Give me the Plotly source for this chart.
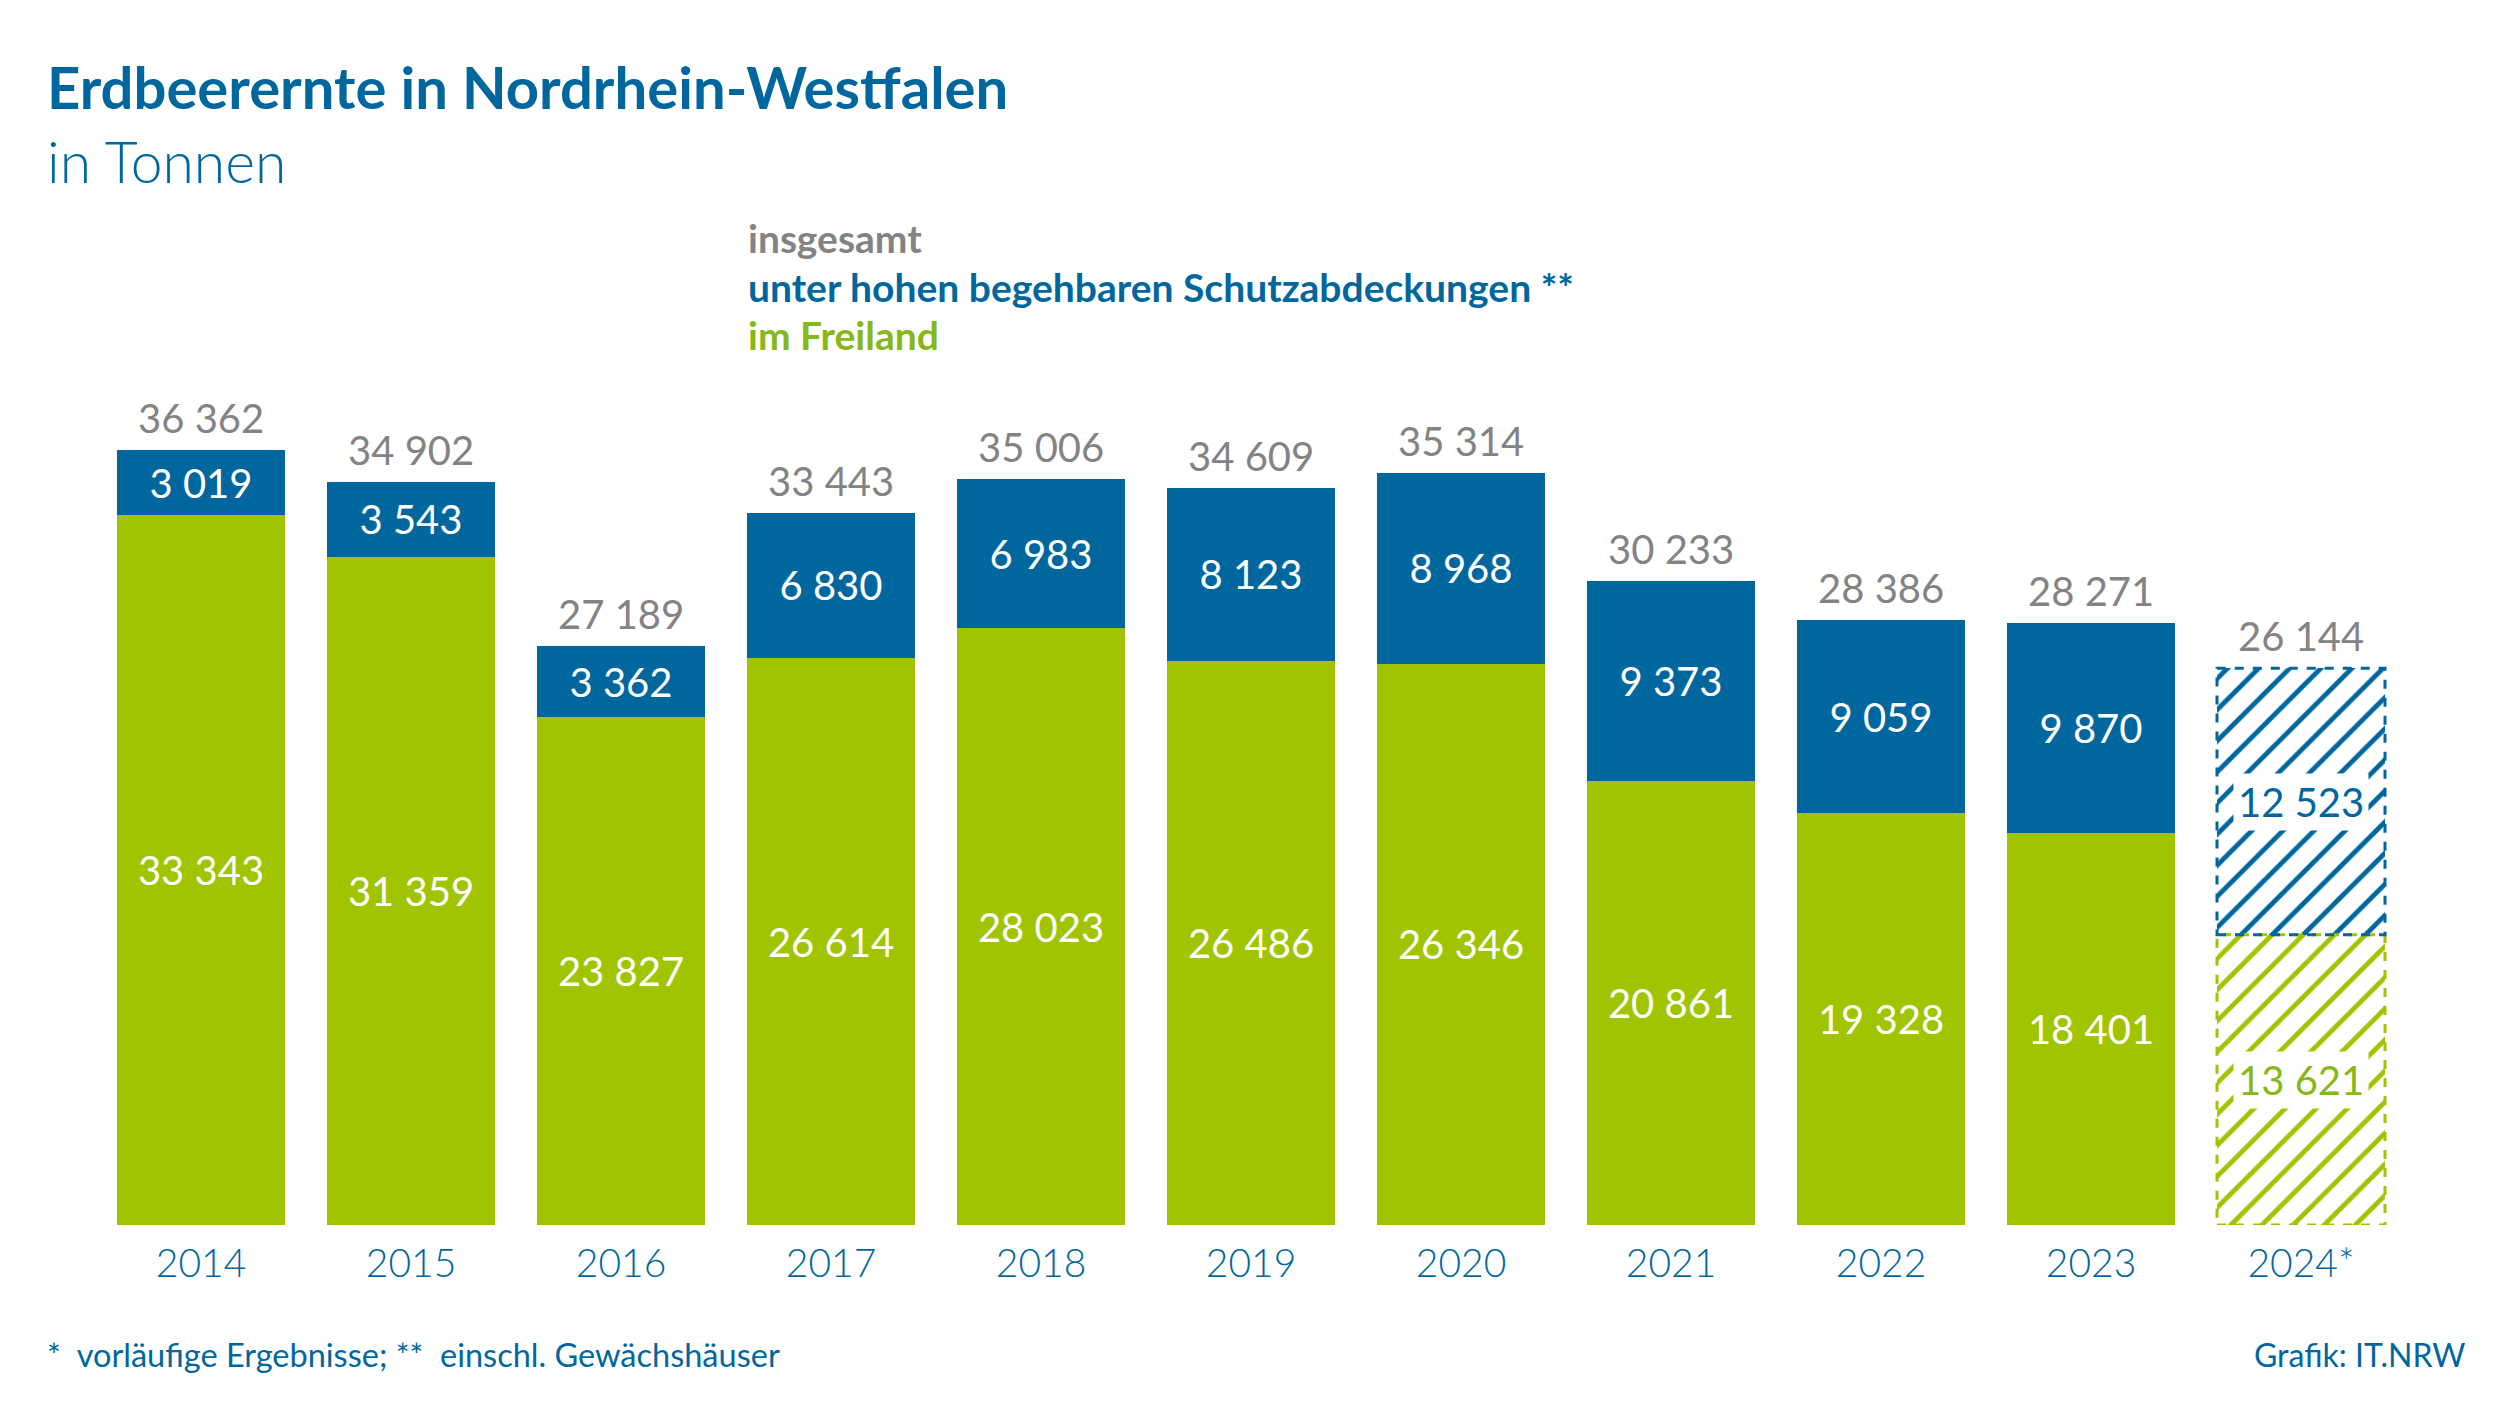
import plotly.graph_objects as go

years = ['2014', '2015', '2016', '2017', '2018', '2019', '2020', '2021', '2022', '2023', '2024*']
freiland = [33343, 31359, 23827, 26614, 28023, 26486, 26346, 20861, 19328, 18401, 13621]
geschuetzt = [3019, 3543, 3362, 6830, 6983, 8123, 8968, 9373, 9059, 9870, 12523]
insgesamt = [36362, 34902, 27189, 33443, 35006, 34609, 35314, 30233, 28386, 28271, 26144]

BLUE = '#00679e'
GREEN = '#a0c400'
GREEN_TXT = '#86b817'
GREY = '#838383'
FONT = 'Lato'

W, H = 2500, 1406
OFF = 8  # page body margin of the html file
L, R, T, B = 96 - OFF, 94 + OFF, 373 - OFF, 181 + OFF


def fmt(v):
    return f'{v:,}'.replace(',', ' ')


def px(x, y):
    # page pixels -> paper coords
    x, y = x - OFF, y - OFF
    return (x - L) / (W - L - R), (H - B - y) / (H - T - B)


def main():
    n = len(years) - 1  # last year is provisional -> hatched
    fig = go.Figure()

    seg_font = dict(color='white', size=40, family=FONT)
    hatch = dict(shape='/', bgcolor='white', size=22, solidity=0.22, fgopacity=1, fillmode='replace')
    fig.add_trace(go.Bar(x=years[:n], y=freiland[:n], marker=dict(color=GREEN, line=dict(width=0)),
                         text=[fmt(v) for v in freiland[:n]], textposition='inside',
                         insidetextanchor='middle', textangle=0, textfont=seg_font, hoverinfo='skip'))
    fig.add_trace(go.Bar(x=years[n:], y=freiland[n:],
                         marker=dict(color='white', line=dict(width=0),
                                     pattern=dict(fgcolor=GREEN, **hatch)),
                         hoverinfo='skip'))
    fig.add_trace(go.Bar(x=years[:n], y=geschuetzt[:n], marker=dict(color=BLUE, line=dict(width=0)),
                         text=[fmt(v) for v in geschuetzt[:n]], textposition='inside',
                         insidetextanchor='middle', textangle=0, textfont=seg_font, hoverinfo='skip'))
    fig.add_trace(go.Bar(x=years[n:], y=geschuetzt[n:],
                         marker=dict(color='white', line=dict(width=0),
                                     pattern=dict(fgcolor=BLUE, **hatch)),
                         hoverinfo='skip'))

    # dashed outlines for the provisional bar
    half = 0.4
    g, b = freiland[n], geschuetzt[n]
    fig.add_shape(type='rect', xref='x', yref='y', x0=n - half, x1=n + half, y0=0, y1=g,
                  line=dict(color=GREEN, width=3, dash='dash'))
    fig.add_shape(type='rect', xref='x', yref='y', x0=n - half, x1=n + half, y0=g, y1=g + b,
                  line=dict(color=BLUE, width=3, dash='dash'))
    fig.add_annotation(x=n, y=g / 2, text=fmt(g), showarrow=False, bgcolor='white',
                       borderpad=4, font=dict(color=GREEN_TXT, size=40, family=FONT))
    fig.add_annotation(x=n, y=g + b / 2, text=fmt(b), showarrow=False, bgcolor='white',
                       borderpad=4, font=dict(color=BLUE, size=40, family=FONT))

    # totals above bars
    for i, tot in enumerate(insgesamt):
        fig.add_annotation(x=i, y=tot, text=fmt(tot), showarrow=False, yanchor='bottom', yshift=6,
                           font=dict(color=GREY, size=40, family=FONT))

    # title, subtitle
    x0, y0 = px(45, 86)
    fig.add_annotation(xref='paper', yref='paper', x=x0, y=y0, xanchor='left', yanchor='middle',
                       text='<b>Erdbeerernte in Nordrhein-Westfalen</b>', showarrow=False,
                       font=dict(color=BLUE, size=58, family=FONT))
    x0, y0 = px(45, 161)
    fig.add_annotation(xref='paper', yref='paper', x=x0, y=y0, xanchor='left', yanchor='middle',
                       text='in Tonnen', showarrow=False,
                       font=dict(color=BLUE, size=57, family=FONT, weight=300))

    # legend as text lines
    legend_items = [('insgesamt', GREY), ('unter hohen begehbaren Schutzabdeckungen **', BLUE),
                    ('im Freiland', GREEN_TXT)]
    for (label, col), y in zip(legend_items, [238, 287, 335]):
        x0, y0 = px(746, y)
        fig.add_annotation(xref='paper', yref='paper', x=x0, y=y0, text=f'<b>{label}</b>', showarrow=False,
                           xanchor='left', yanchor='middle', font=dict(color=col, size=39, family=FONT))

    # footnotes
    x0, y0 = px(45, 1354)
    fig.add_annotation(xref='paper', yref='paper', x=x0, y=y0, xanchor='left', yanchor='middle',
                       text='*  vorläufige Ergebnisse; **  einschl. Gewächshäuser', showarrow=False,
                       font=dict(color=BLUE, size=32.5, family=FONT))
    x0, y0 = px(2467, 1354)
    fig.add_annotation(xref='paper', yref='paper', x=x0, y=y0, xanchor='right', yanchor='middle',
                       text='Grafik: IT.NRW', showarrow=False, font=dict(color=BLUE, size=32, family=FONT))

    fig.update_layout(
        width=W, height=H,
        barmode='stack', bargap=0.2,
        showlegend=False,
        plot_bgcolor='white', paper_bgcolor='white',
        margin=dict(l=L, r=R, t=T, b=B),
        xaxis=dict(type='category', range=[-0.5, n + 0.5], showgrid=False, showline=False,
                   zeroline=False, ticks='', ticklabelstandoff=12,
                   tickfont=dict(color=BLUE, size=39, family=FONT, weight=300)),
        yaxis=dict(range=[0, 40000], visible=False, showgrid=False, zeroline=False),
    )

    fig.write_html('out.html')


if __name__ == '__main__':
    main()
